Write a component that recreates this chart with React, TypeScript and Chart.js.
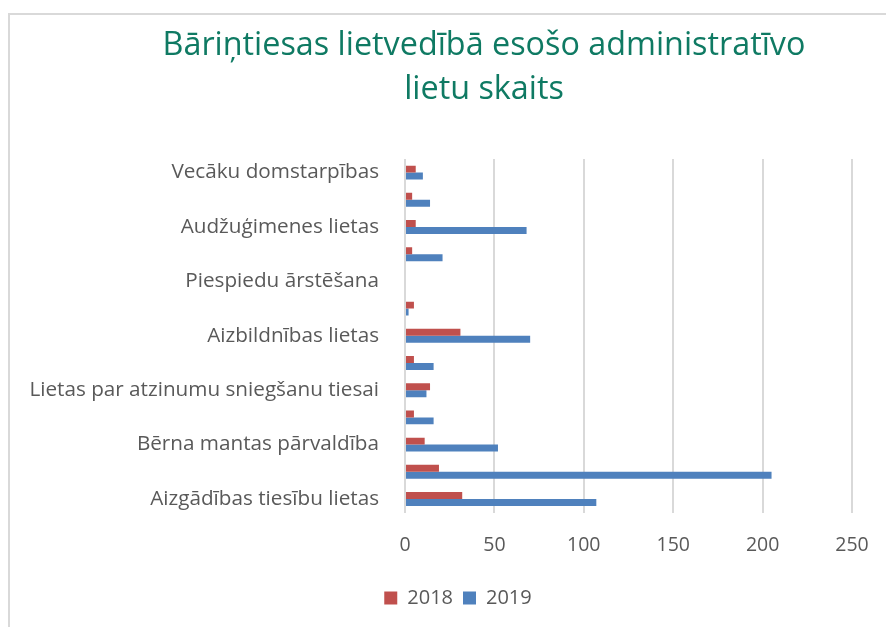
import React, { useEffect, useRef } from "react";
import { Chart, registerables } from "chart.js";

Chart.register(...registerables);

const TITLE_LINES = ["Bāriņtiesas lietvedībā esošo administratīvo", "lietu skaits"];
const CATEGORIES = [
  "Vecāku domstarpības",
  "",
  "Audžuģimenes lietas",
  "",
  "Piespiedu ārstēšana",
  "",
  "Aizbildnības lietas",
  "",
  "Lietas par atzinumu sniegšanu tiesai",
  "",
  "Bērna mantas pārvaldība",
  "",
  "Aizgādības tiesību lietas",
];
const SERIES_NAMES = ["2018", "2019"];
const SERIES_2018 = [6, 4, 6, 4, 0, 5, 31, 5, 14, 5, 11, 19, 32];
const SERIES_2019 = [10, 14, 68, 21, 0, 2, 70, 16, 12, 16, 52, 205, 107];
const X_MIN = 0;
const X_MAX = 250;
const X_STEP = 50;

const FONT = "'Open Sans', sans-serif";
const TEXT_COLOR = "#595959";
const TITLE_COLOR = "#0f7a63";
const TITLE_CENTER_X = 484;
const LEGEND_CENTER_X = 458;

const titlePlugin = {
  id: "customTitle",
  afterLayout(chart: any) {
    const lg = chart.legend;
    if (lg) {
      const shift = LEGEND_CENTER_X - (lg.left + lg.right) / 2;
      lg.left += shift;
      lg.right += shift;
    }
  },
  afterDraw(chart: any) {
    const ctx = chart.ctx;
    ctx.save();
    ctx.fillStyle = TITLE_COLOR;
    ctx.textAlign = "center";
    ctx.textBaseline = "alphabetic";
    ctx.font = `100px ${FONT}`;
    const w = ctx.measureText(TITLE_LINES[0]).width;
    const size = (100 * 643) / w;
    ctx.font = `${size}px ${FONT}`;
    ctx.fillText(TITLE_LINES[0], TITLE_CENTER_X, 55);
    ctx.fillText(TITLE_LINES[1], TITLE_CENTER_X, 99);
    ctx.restore();
  },
};

export default function App() {
  const ref = useRef<HTMLCanvasElement | null>(null);

  useEffect(() => {
    document.body.style.margin = "0";
    document.body.style.background = "#ffffff";
    if (!ref.current) return;
    const chart = new Chart(ref.current, {
      type: "bar",
      data: {
        labels: CATEGORIES,
        datasets: [
          {
            label: SERIES_NAMES[0],
            data: SERIES_2018,
            backgroundColor: "#c0504d",
            borderWidth: 0,
            categoryPercentage: 0.51,
            barPercentage: 1.0,
          },
          {
            label: SERIES_NAMES[1],
            data: SERIES_2019,
            backgroundColor: "#4f81bd",
            borderWidth: 0,
            categoryPercentage: 0.51,
            barPercentage: 1.0,
          },
        ],
      },
      options: {
        indexAxis: "y",
        animation: false,
        responsive: false,
        devicePixelRatio: 1,
        layout: { padding: { top: 159, left: 10, right: 34, bottom: 9 } },
        plugins: {
          title: { display: false },
          tooltip: { enabled: false },
          legend: {
            position: "bottom",
            labels: {
              boxWidth: 13,
              boxHeight: 13,
              padding: 10,
              color: TEXT_COLOR,
              font: { family: FONT, size: 20 },
            },
          },
        },
        scales: {
          x: {
            min: X_MIN,
            max: X_MAX,
            ticks: {
              stepSize: X_STEP,
              color: TEXT_COLOR,
              font: { family: FONT, size: 19.5 },
              padding: 21,
            },
            grid: { color: "#d9d9d9", lineWidth: 2, drawTicks: false },
            border: { display: false },
            afterFit: (s: any) => {
              s.paddingLeft = 0;
              s.paddingRight = 0;
            },
          },
          y: {
            ticks: {
              color: TEXT_COLOR,
              font: { family: FONT, size: 20.7 },
              padding: 26,
              autoSkip: false,
            },
            grid: { display: false, drawTicks: false },
            border: { display: false },
            afterFit: (s: any) => {
              s.width = 395;
            },
          },
        },
      },
      plugins: [titlePlugin],
    });
    return () => chart.destroy();
  }, []);

  return (
    <div style={{ position: "relative", width: 886, height: 627, overflow: "hidden", background: "#fff" }}>
      <div
        style={{
          position: "absolute",
          left: 8,
          top: 13,
          width: 1200,
          height: 1200,
          border: "2px solid #d9d9d9",
          boxSizing: "border-box",
        }}
      />
      <canvas ref={ref} width={886} height={627} style={{ position: "absolute", left: 0, top: 0 }} />
    </div>
  );
}
